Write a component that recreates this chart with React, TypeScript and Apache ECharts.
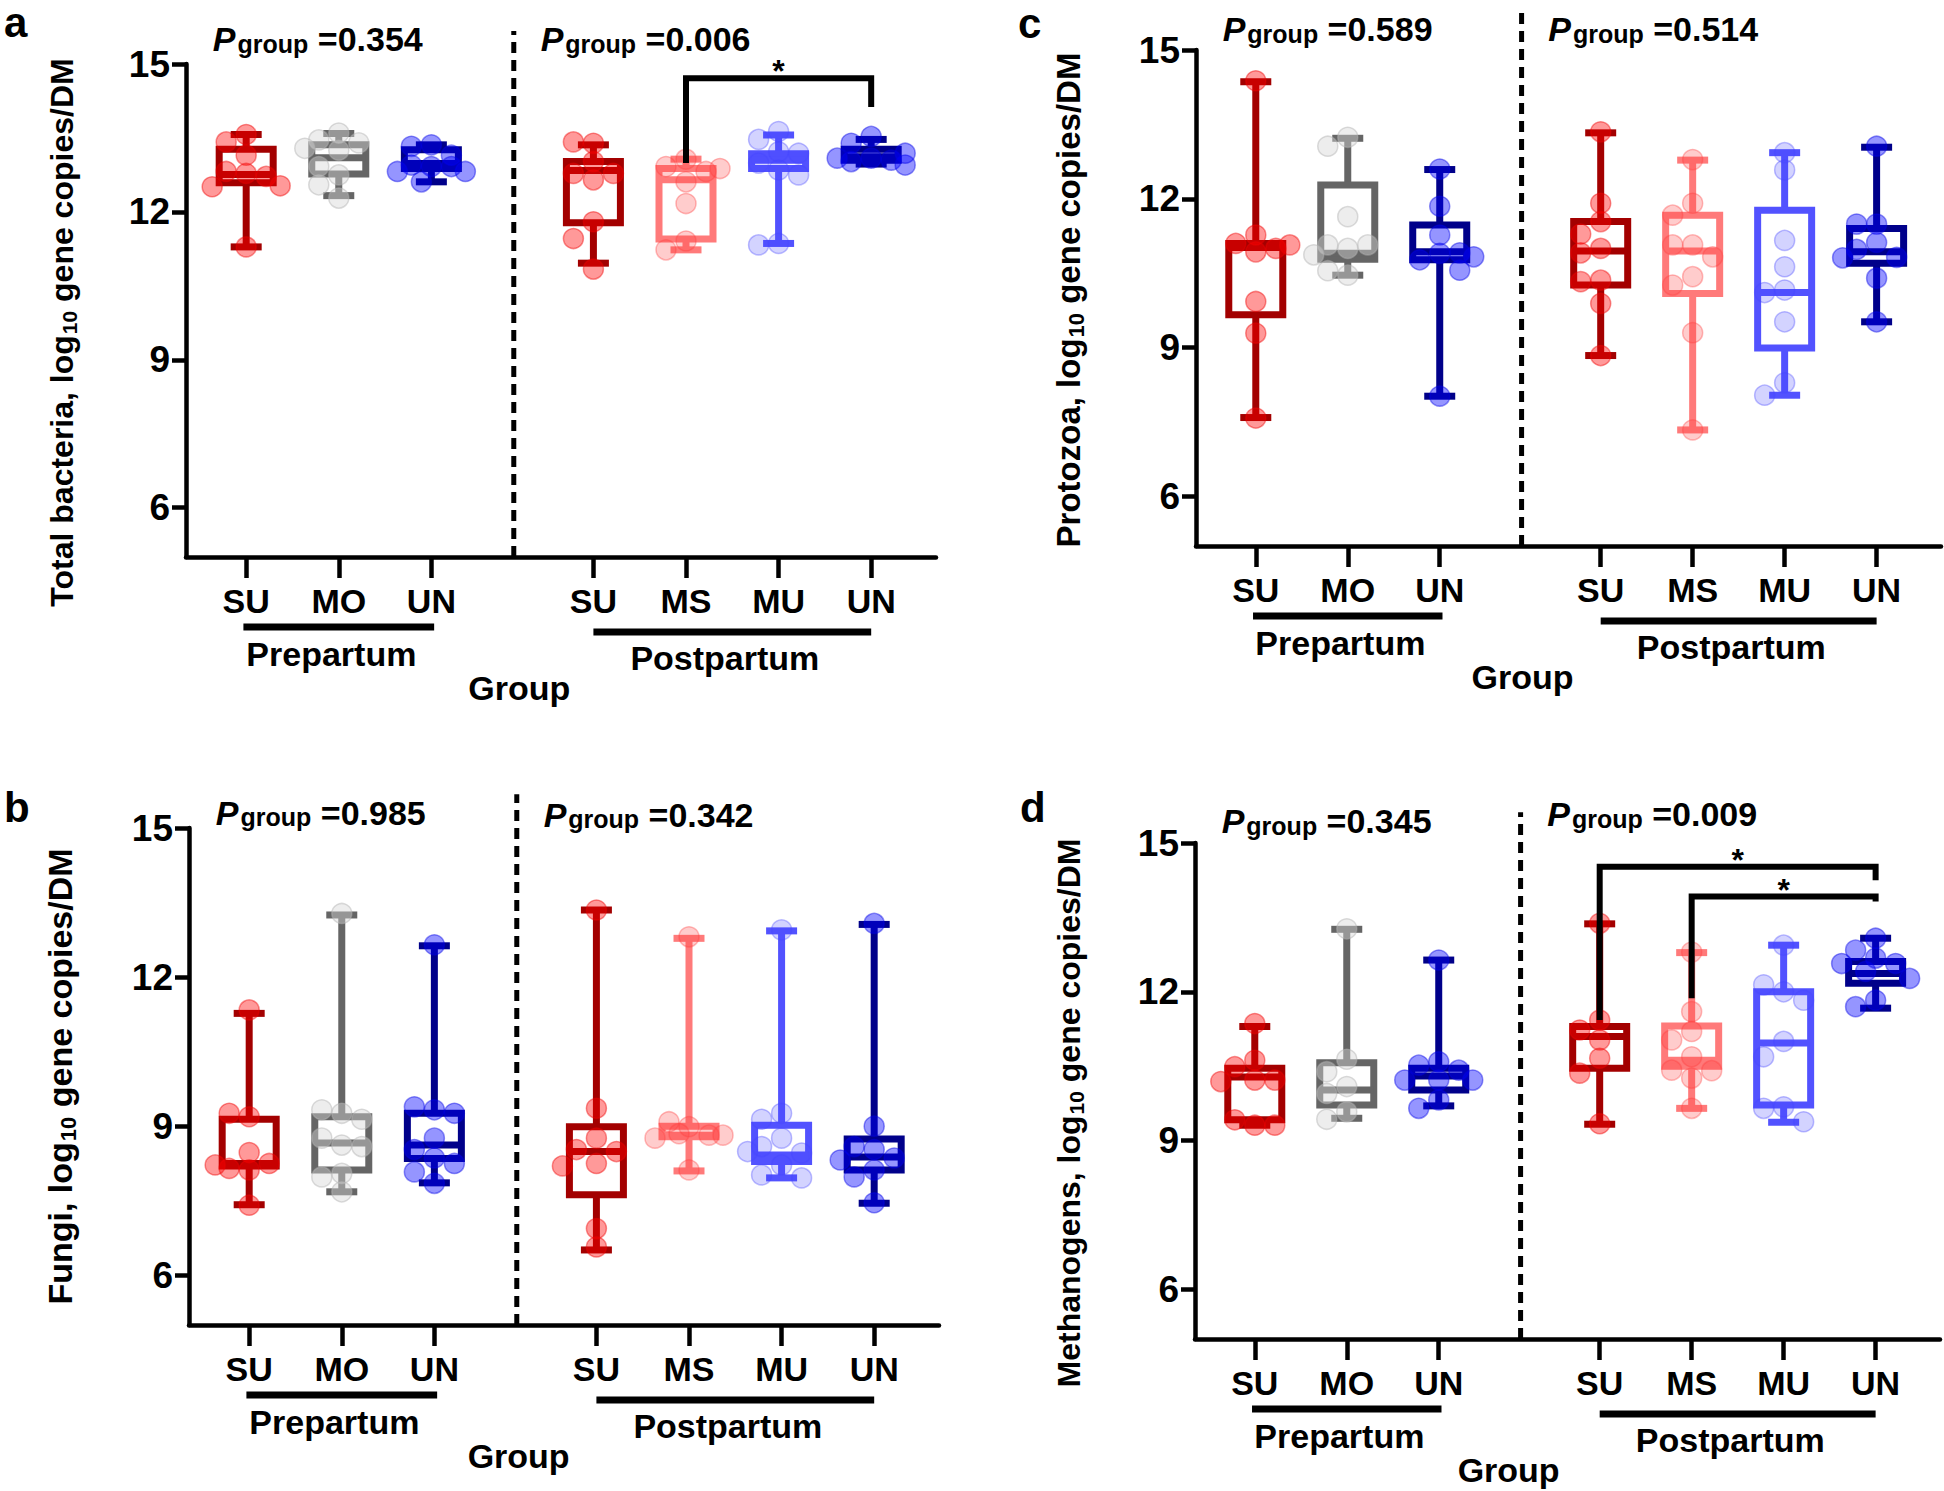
import React, { useEffect, useRef } from 'react';
import * as echarts from 'echarts';

const FONT = "'Liberation Sans', Arial, Helvetica, sans-serif";

// ---------- categories / ticks ----------
const preCategories = ['SU', 'MO', 'UN'];
const postCategories = ['SU', 'MS', 'MU', 'UN'];
const tickLabels = [...preCategories, ...postCategories];
const groupPositions = [0, 1, 2, 3.75, 4.75, 5.75, 6.75];
const groupKeys = ['SU', 'MO', 'UN', 'SU', 'MS', 'MU', 'UN'];
const yTickValues = [6, 9, 12, 15];

// ---------- panel a : Total bacteria ----------
// box stats: [min, Q1, median, Q3, max]
const bacteriaBoxes = [
  [11.29, 12.59, 12.76, 13.27, 13.57],
  [12.33, 12.77, 13.1, 13.36, 13.59],
  [12.61, 12.88, 12.98, 13.26, 13.36],
  [10.96, 11.78, 12.84, 13.02, 13.36],
  [11.23, 11.45, 12.65, 12.88, 13.07],
  [11.36, 12.88, 13.05, 13.18, 13.56],
  [12.97, 13.05, 13.12, 13.27, 13.47],
];
const bacteriaPoints = [
  [13.57, 13.42, 13.15, 12.82, 12.78, 12.72, 12.51, 12.53, 11.29],
  [13.6, 13.46, 13.4, 13.29, 13.25, 12.92, 12.75, 12.55, 12.28],
  [13.36, 13.33, 13.15, 12.92, 12.95, 12.82, 12.82, 12.92, 12.61],
  [13.39, 13.42, 13.02, 12.78, 12.65, 12.78, 11.8, 11.46, 10.84],
  [13.07, 12.92, 12.82, 12.61, 12.17, 11.41, 11.23, 12.88],
  [13.63, 13.47, 13.22, 13.19, 12.99, 12.85, 12.75, 11.36, 11.33],
  [13.53, 13.39, 13.09, 13.02, 13.05, 12.95, 13.09, 13.19],
];

// ---------- panel b : Fungi ----------
const fungiBoxes = [
  [7.42, 8.2, 8.25, 9.14, 11.27],
  [7.68, 8.12, 8.66, 9.19, 13.25],
  [7.86, 8.35, 8.62, 9.26, 12.63],
  [6.51, 7.62, 8.49, 8.99, 13.35],
  [8.1, 8.79, 8.82, 9.0, 12.78],
  [7.96, 8.29, 8.42, 9.02, 12.93],
  [7.45, 8.12, 8.38, 8.74, 13.06],
];
const fungiPoints = [
  [11.34, 9.19, 9.26, 8.47, 8.15, 8.25, 8.12, 8.22, 7.41],
  [13.28, 9.26, 9.33, 9.14, 8.62, 8.76, 8.59, 8.05, 7.98, 7.68],
  [12.65, 9.33, 9.39, 9.26, 8.76, 8.53, 8.36, 8.25, 8.08, 7.85],
  [13.35, 9.36, 8.76, 8.53, 8.49, 8.25, 8.2, 6.94, 6.57],
  [12.81, 8.99, 9.09, 8.82, 8.76, 8.82, 8.12, 8.85],
  [12.95, 9.26, 9.14, 8.76, 8.59, 8.46, 8.49, 8.22, 8.02, 7.96],
  [13.08, 9.0, 8.53, 8.59, 8.36, 8.32, 8.12, 7.98, 7.46],
];

// ---------- panel c : Protozoa ----------
const protozoaBoxes = [
  [7.59, 9.66, 11.02, 11.1, 14.36],
  [10.46, 10.78, 10.9, 12.28, 13.22],
  [8.02, 10.77, 10.93, 11.47, 12.59],
  [8.84, 10.26, 10.95, 11.54, 13.33],
  [7.34, 10.09, 10.95, 11.67, 12.78],
  [8.04, 8.99, 10.11, 11.77, 12.93],
  [9.52, 10.7, 10.93, 11.4, 13.04],
];
const protozoaPoints = [
  [14.38, 11.27, 11.1, 11.0, 11.07, 10.93, 9.93, 9.29, 7.58],
  [13.24, 13.06, 11.64, 11.0, 11.07, 11.07, 10.87, 10.46, 10.55],
  [12.6, 11.85, 11.27, 10.9, 10.77, 10.91, 10.56, 10.83, 8.02],
  [13.35, 11.91, 11.54, 11.29, 11.0, 10.91, 10.36, 10.33, 9.89, 8.84],
  [12.79, 11.91, 11.67, 11.07, 11.07, 10.83, 10.43, 10.26, 9.3, 7.34],
  [12.93, 12.58, 11.16, 10.63, 10.16, 10.11, 9.52, 8.29, 8.04],
  [13.06, 11.49, 11.49, 11.12, 10.98, 10.82, 10.81, 10.4, 9.52],
];

// ---------- panel d : Methanogens ----------
const methanogenBoxes = [
  [9.31, 9.42, 10.28, 10.46, 11.3],
  [9.45, 9.72, 10.02, 10.57, 13.26],
  [9.7, 10.02, 10.3, 10.46, 12.64],
  [9.33, 10.46, 11.1, 11.3, 13.37],
  [9.65, 10.5, 10.62, 11.31, 12.79],
  [9.37, 9.72, 10.97, 12.0, 12.94],
  [11.67, 12.17, 12.37, 12.61, 13.08],
];
const methanogenPoints = [
  [11.36, 10.62, 10.49, 10.22, 10.22, 10.19, 9.31, 9.42, 9.31],
  [13.27, 10.64, 10.39, 10.09, 9.95, 9.58, 9.43],
  [12.64, 10.59, 10.52, 10.42, 10.22, 10.22, 10.22, 9.82, 9.65],
  [13.38, 11.43, 11.23, 11.03, 10.66, 10.36, 9.34],
  [12.8, 11.6, 11.2, 11.03, 10.69, 10.42, 10.41, 10.26, 9.65],
  [12.94, 12.0, 12.14, 11.83, 11.0, 10.69, 9.68, 9.65, 9.38],
  [13.08, 12.84, 12.68, 12.57, 12.57, 12.41, 12.27, 11.83, 11.7],
];

// ---------- annotations ----------
const panelLetters = ['a', 'b', 'c', 'd'];
const panelTitles = ['Total bacteria', 'Fungi', 'Protozoa', 'Methanogens'];
const pGroupPre = ['0.354', '0.985', '0.589', '0.345'];
const pGroupPost = ['0.006', '0.342', '0.514', '0.009'];
// significance brackets: [fromGroup, toGroup, leftFoot, top, rightFoot]
const sigA = [[4, 6, 12.99, 14.71, 14.13]];
const sigB: number[][] = [];
const sigC: number[][] = [];
const sigD = [
  [3, 6, 11.43, 14.52, 14.25],
  [4, 6, 11.87, 13.92, 13.82],
];

const panelBoxes = [bacteriaBoxes, fungiBoxes, protozoaBoxes, methanogenBoxes];
const panelPoints = [bacteriaPoints, fungiPoints, protozoaPoints, methanogenPoints];
const panelSigs = [sigA, sigB, sigC, sigD];

// ---------- layout (pixels) ----------
const grids = [
  { left: 186, top: 64, width: 750, height: 493 },
  { left: 189, top: 828, width: 750, height: 497 },
  { left: 1196, top: 50, width: 745, height: 496 },
  { left: 1195, top: 843, width: 745, height: 496 },
];
const nameGaps = [106, 110, 109, 108];
const namePadRight = [44, 0, 4, 44];
const nameSize = [32, 34, 33, 32];
const letterPos = [[4, 1], [4, 786], [1018, 2], [1020, 786]];
const dashTop = [15.67, 15.68, 15.88, 15.62];
const groupLabelX = [2.95, 2.91, 2.9, 2.76];
// baseline heights (axis units) of the P-group labels: [pre, post]
const pLabelY = [[15.16, 15.16], [14.96, 14.92], [15.08, 15.08], [15.1, 15.24]];
const X_MIN = -0.65;
const X_MAX = 7.45;
const DASH_X = 2.89;

const boxColors: Record<string, string> = {
  SU: '#A30000', MO: '#656565', UN: '#00008A', MS: '#FF7A7A', MU: '#5252FF',
};
const pointFill: Record<string, string> = {
  SU: 'rgba(255,0,0,0.5)', MO: 'rgba(215,215,215,0.55)', UN: 'rgba(0,0,255,0.52)',
  MS: 'rgba(255,60,60,0.33)', MU: 'rgba(70,70,255,0.3)',
};
const pointBorder: Record<string, string> = {
  SU: 'rgba(240,0,0,0.55)', MO: 'rgba(180,180,180,0.6)', UN: 'rgba(0,0,230,0.55)',
  MS: 'rgba(255,60,60,0.45)', MU: 'rgba(70,70,255,0.45)',
};

function swarm(values: number[], xCenter: number, pxPerX: number, pxPerY: number) {
  const placed: [number, number][] = [];
  const offsets = [0, -20, 20, -34, 34, -10, 10];
  return values.map((v) => {
    let best = 0;
    let bestDist = -1;
    for (const o of offsets) {
      let minD = Infinity;
      for (const [po, pv] of placed) {
        const d = Math.hypot(o - po, (v - pv) * pxPerY);
        if (d < minD) minD = d;
      }
      if (minD >= 17) { best = o; bestDist = minD; break; }
      if (minD > bestDist) { bestDist = minD; best = o; }
    }
    placed.push([best, v]);
    return [xCenter + best / pxPerX, v];
  });
}

function labelFor(v: number) {
  const idx = groupPositions.findIndex((p) => Math.abs(p - v) < 0.01);
  return idx >= 0 ? tickLabels[idx] : '';
}

export default function App() {
  const ref = useRef<HTMLDivElement>(null);
  useEffect(() => {
    document.body.style.margin = '0';
    const chart = echarts.init(ref.current!, null, { renderer: 'svg' });

    const grid: any[] = [];
    const xAxis: any[] = [];
    const yAxis: any[] = [];
    const series: any[] = [];

    grids.forEach((g, i) => {
      grid.push({ ...g, containLabel: false });
      xAxis.push({
        type: 'value', gridIndex: i, min: X_MIN, max: X_MAX,
        axisLine: { show: true, onZero: false, lineStyle: { color: '#000', width: 4.5 } },
        axisTick: { show: true, customValues: groupPositions, length: 21, lineStyle: { color: '#000', width: 4.5 } },
        axisLabel: {
          customValues: groupPositions, formatter: labelFor, margin: 27,
          fontSize: 34, fontWeight: 'bold', fontFamily: FONT, color: '#000',
        },
        splitLine: { show: false },
      });
      const ns = nameSize[i];
      yAxis.push({
        type: 'value', gridIndex: i, min: 5, max: 15,
        name: `{n|${panelTitles[i]}, log}{s|10}{n| gene copies/DM}`,
        nameLocation: 'middle', nameGap: nameGaps[i], nameRotate: 90,
        nameTextStyle: {
          fontSize: ns, fontWeight: 'bold', fontFamily: FONT, color: '#000',
          padding: [0, namePadRight[i], 0, 0],
          rich: {
            n: { fontSize: ns, fontWeight: 'bold', fontFamily: FONT, color: '#000', lineHeight: ns + 2, verticalAlign: 'top' },
            s: { fontSize: Math.round(ns * 0.66), fontWeight: 'bold', fontFamily: FONT, color: '#000', lineHeight: 22, padding: [16, 0, 0, 1], verticalAlign: 'bottom' },
          },
        },
        axisLine: { show: true, onZero: false, lineStyle: { color: '#000', width: 4.5 } },
        axisTick: { show: true, customValues: yTickValues, length: 14, lineStyle: { color: '#000', width: 4.5 } },
        axisLabel: {
          customValues: yTickValues, margin: 16, formatter: (v: number) => String(v),
          fontSize: 37, fontWeight: 'bold', fontFamily: FONT, color: '#000',
        },
        splitLine: { show: false },
      });

      // box plots
      const boxData = panelBoxes[i].map((b, k) => [groupPositions[k], ...b, k]);
      series.push({
        type: 'custom', xAxisIndex: i, yAxisIndex: i, z: 2, silent: true,
        data: boxData,
        renderItem: (params: any, api: any) => {
          const x = api.value(0);
          const k = api.value(6);
          const color = boxColors[groupKeys[k]];
          const pMin = api.coord([x, api.value(1)]);
          const pQ1 = api.coord([x, api.value(2)]);
          const pMed = api.coord([x, api.value(3)]);
          const pQ3 = api.coord([x, api.value(4)]);
          const pMax = api.coord([x, api.value(5)]);
          const cx = pMin[0];
          const bw = 27;
          const cw = 15.5;
          const lw = 7;
          const st = { stroke: color, lineWidth: lw, fill: null };
          return {
            type: 'group',
            children: [
              { type: 'line', shape: { x1: cx, y1: pMax[1], x2: cx, y2: pQ3[1] }, style: st },
              { type: 'line', shape: { x1: cx, y1: pQ1[1], x2: cx, y2: pMin[1] }, style: st },
              { type: 'line', shape: { x1: cx - cw, y1: pMax[1], x2: cx + cw, y2: pMax[1] }, style: st },
              { type: 'line', shape: { x1: cx - cw, y1: pMin[1], x2: cx + cw, y2: pMin[1] }, style: st },
              { type: 'rect', shape: { x: cx - bw, y: pQ3[1], width: bw * 2, height: pQ1[1] - pQ3[1] }, style: { stroke: color, lineWidth: lw, fill: 'transparent' } },
              { type: 'line', shape: { x1: cx - bw, y1: pMed[1], x2: cx + bw, y2: pMed[1] }, style: st },
            ],
          };
        },
      });

      // individual points
      const pxPerX = g.width / (X_MAX - X_MIN);
      const pxPerY = g.height / 10;
      const pts: any[] = [];
      panelPoints[i].forEach((vals, k) => {
        const key = groupKeys[k];
        swarm(vals, groupPositions[k], pxPerX, pxPerY).forEach((p) => {
          pts.push({ value: p, itemStyle: { color: pointFill[key], borderColor: pointBorder[key], borderWidth: 1.5 } });
        });
      });
      series.push({
        type: 'scatter', xAxisIndex: i, yAxisIndex: i, z: 3, silent: true,
        symbol: 'circle', symbolSize: 20, data: pts, animation: false,
      });

      // significance brackets
      panelSigs[i].forEach((s) => {
        const x1 = groupPositions[s[0]];
        const x2 = groupPositions[s[1]];
        series.push({
          type: 'line', xAxisIndex: i, yAxisIndex: i, z: 4, silent: true,
          symbol: 'none', clip: false,
          lineStyle: { color: '#000', width: 6, join: 'miter', cap: 'butt' },
          data: [[x1, s[2]], [x1, s[3]], [x2, s[3]], [x2, s[4]]],
        });
      });
    });

    chart.setOption({ animation: false, backgroundColor: '#fff', grid, xAxis, yAxis, series });

    const graphic: any[] = [];
    const txt = (x: number, y: number, text: string, size: number, align = 'center', vAlign = 'middle', extra: any = {}) => ({
      type: 'text', silent: true, z: 10,
      style: {
        x, y, text, fill: '#000', fontSize: size, fontWeight: 'bold', fontFamily: FONT,
        align, verticalAlign: vAlign, textAlign: align, textVerticalAlign: vAlign, ...extra,
      },
    });

    grids.forEach((g, i) => {
      const toPx = (x: number, y: number) => chart.convertToPixel({ gridIndex: i } as any, [x, y]) as number[];
      const axisY = toPx(0, 5)[1];

      // dashed separator
      const d0 = toPx(DASH_X, 5);
      const d1 = toPx(DASH_X, dashTop[i]);
      graphic.push({
        type: 'line', silent: true, z: 1,
        shape: { x1: d0[0], y1: d0[1], x2: d1[0], y2: d1[1] },
        style: { stroke: '#000', lineWidth: 5, lineDash: [11, 7] },
      });

      // period bars and labels
      const preL = toPx(-0.03, 5)[0];
      const preR = toPx(2.03, 5)[0];
      const postL = toPx(3.75, 5)[0];
      const postR = toPx(6.75, 5)[0];
      graphic.push({ type: 'line', silent: true, shape: { x1: preL, y1: axisY + 70, x2: preR, y2: axisY + 70 }, style: { stroke: '#000', lineWidth: 7 } });
      graphic.push({ type: 'line', silent: true, shape: { x1: postL, y1: axisY + 75, x2: postR, y2: axisY + 75 }, style: { stroke: '#000', lineWidth: 7 } });
      graphic.push(txt(toPx(0.92, 5)[0], axisY + 97, 'Prepartum', 34));
      graphic.push(txt(toPx(5.17, 5)[0], axisY + 101, 'Postpartum', 34));
      graphic.push(txt(toPx(groupLabelX[i], 5)[0], axisY + 131, 'Group', 34));

      // panel letter
      graphic.push(txt(letterPos[i][0], letterPos[i][1], panelLetters[i], 42, 'left', 'top'));

      // P group labels
      const rich = {
        p: { fontSize: 34, fontStyle: 'italic', fontWeight: 'bold', fontFamily: FONT, fill: '#000', lineHeight: 34, verticalAlign: 'top' },
        g: { fontSize: 25, fontWeight: 'bold', fontFamily: FONT, fill: '#000', lineHeight: 25, padding: [16, 0, 0, 2], verticalAlign: 'bottom' },
        n: { fontSize: 34, fontWeight: 'bold', fontFamily: FONT, fill: '#000', lineHeight: 34, verticalAlign: 'top' },
      };
      const pPre = toPx(-0.36, pLabelY[i][0]);
      const pPost = toPx(3.18, pLabelY[i][1]);
      graphic.push(txt(pPre[0], pPre[1] - 34, `{p|P}{g|group}{n| =${pGroupPre[i]}}`, 34, 'left', 'top', { rich }));
      graphic.push(txt(pPost[0], pPost[1] - 34, `{p|P}{g|group}{n| =${pGroupPost[i]}}`, 34, 'left', 'top', { rich }));

      // stars
      panelSigs[i].forEach((s) => {
        const mid = (groupPositions[s[0]] + groupPositions[s[1]]) / 2;
        const p = toPx(mid, s[3]);
        graphic.push(txt(p[0], p[1] - 7, '*', 32));
      });
    });

    chart.setOption({ graphic });
    return () => chart.dispose();
  }, []);
  return <div ref={ref} style={{ width: 1944, height: 1491 }} />;
}
